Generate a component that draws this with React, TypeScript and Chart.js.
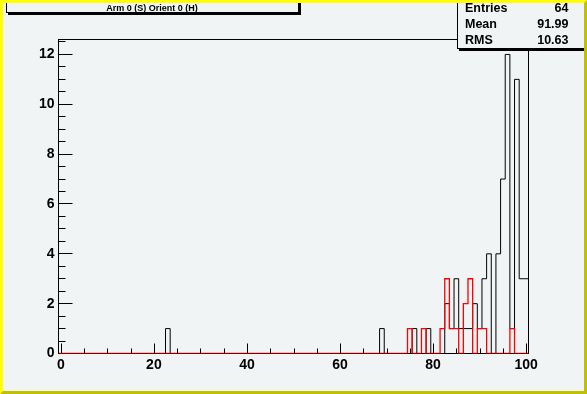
import React, { useEffect, useRef } from "react";
import { Chart, registerables } from "chart.js";

Chart.register(...registerables);

// ---- data ----
const xMin = -0.5;
const xMax = 100.5;
const nBins = 101;
const yMax = 12.6;
const xTickLabels = [0, 20, 40, 60, 80, 100];
const yTickLabels = [0, 2, 4, 6, 8, 10, 12];

const blackBins = [23, 69, 76, 79, 83, 84, 85, 86, 87, 88, 89, 90, 91, 92, 94, 95, 96, 97, 98, 99, 100];
const blackCounts = [1, 1, 1, 1, 2, 1, 3, 1, 1, 1, 2, 1, 3, 4, 4, 7, 12, 1, 11, 3, 3];
const redBins = [75, 78, 82, 83, 84, 85, 87, 88, 90, 91, 97];
const redCounts = [1, 1, 1, 3, 1, 1, 2, 3, 1, 1, 1];

const titleText = "Arm 0 (S) Orient 0 (H)";
const statsLabels = ["Entries", "Mean", "RMS"];
const statsValues = ["64", "91.99", "10.63"];

const FONT = "'Liberation Sans', Arial, Helvetica, sans-serif";
const BG = "#f0f4f4";

function stepPoints(bins: number[], counts: number[]) {
  const full = new Array(nBins).fill(0);
  bins.forEach((b, i) => {
    full[b] = counts[i];
  });
  const pts: { x: number; y: number }[] = [];
  for (let i = 0; i < nBins; i++) pts.push({ x: xMin + i, y: full[i] });
  pts.push({ x: xMax, y: full[nBins - 1] });
  pts.push({ x: xMax, y: 0 });
  return pts;
}

export default function App() {
  const ref = useRef<HTMLCanvasElement>(null);

  useEffect(() => {
    document.body.style.margin = "0";
    const canvas = ref.current!;

    const rootPlugin = {
      id: "rootStyle",
      beforeDraw(chart: any) {
        const ctx = chart.ctx;
        ctx.save();
        ctx.fillStyle = BG;
        ctx.fillRect(0, 0, chart.width, chart.height);
        ctx.restore();
      },
      beforeDatasetsDraw(chart: any) {
        const ctx = chart.ctx;
        const xs = chart.scales.x;
        const ys = chart.scales.y;
        const L = xs.getPixelForValue(xMin);
        const R = xs.getPixelForValue(xMax);
        const T = ys.getPixelForValue(yMax);
        const B = ys.getPixelForValue(0);
        ctx.save();
        ctx.strokeStyle = "#000";
        ctx.lineWidth = 1;
        ctx.strokeRect(L, T, R - L, B - T);
        ctx.beginPath();
        for (let v = 0; v <= 100; v += 5) {
          const px = Math.round(xs.getPixelForValue(v)) + 0.5;
          const len = xTickLabels.includes(v) ? 10 : 5;
          ctx.moveTo(px, B);
          ctx.lineTo(px, B - len);
        }
        for (let v = 0; v <= yMax; v += 0.5) {
          const py = Math.round(ys.getPixelForValue(v) - 0.5) + 0.5;
          const len = yTickLabels.includes(v) ? 14 : 7;
          ctx.moveTo(L, py);
          ctx.lineTo(L + len, py);
        }
        ctx.stroke();
        ctx.restore();
      },
      afterDraw(chart: any) {
        const ctx = chart.ctx;
        const W = chart.width;
        const H = chart.height;
        ctx.save();
        // title box
        const tx0 = 6, tx1 = 298, ty0 = -6, ty1 = 12;
        ctx.fillStyle = "#000";
        ctx.fillRect(tx0 + 2, ty0 + 2, tx1 - tx0 + 1, ty1 - ty0 + 1);
        ctx.fillStyle = BG;
        ctx.fillRect(tx0, ty0, tx1 - tx0, ty1 - ty0);
        ctx.strokeStyle = "#000";
        ctx.lineWidth = 1;
        ctx.strokeRect(tx0 + 0.5, ty0 + 0.5, tx1 - tx0, ty1 - ty0);
        ctx.fillStyle = "#000";
        ctx.font = `bold 9px ${FONT}`;
        ctx.textAlign = "center";
        ctx.textBaseline = "alphabetic";
        ctx.fillText(titleText, (tx0 + tx1) / 2, 10.5);

        // stats box
        const sx0 = 457, sx1 = W, sy0 = -6, sy1 = 48;
        ctx.fillStyle = "#000";
        ctx.fillRect(sx0 + 2, sy0 + 2, sx1 - sx0, sy1 - sy0 + 1);
        ctx.fillStyle = BG;
        ctx.fillRect(sx0, sy0, sx1 - sx0, sy1 - sy0);
        ctx.strokeRect(sx0 + 0.5, sy0 + 0.5, sx1 - sx0, sy1 - sy0);
        ctx.fillStyle = "#000";
        ctx.font = `bold 12.5px ${FONT}`;
        statsLabels.forEach((lab, i) => {
          const y = 12 + i * 16;
          ctx.textAlign = "left";
          ctx.fillText(lab, 465, y);
          ctx.textAlign = "right";
          ctx.fillText(statsValues[i], 568.5, y);
        });

        // canvas bevel border
        const b = 3;
        ctx.fillStyle = "#ffff00";
        ctx.beginPath();
        ctx.moveTo(0, 0);
        ctx.lineTo(W, 0);
        ctx.lineTo(W - b, b);
        ctx.lineTo(b, b);
        ctx.lineTo(b, H - b);
        ctx.lineTo(0, H);
        ctx.closePath();
        ctx.fill();
        ctx.fillStyle = "#c0c000";
        ctx.beginPath();
        ctx.moveTo(W, 0);
        ctx.lineTo(W, H);
        ctx.lineTo(0, H);
        ctx.lineTo(b, H - b);
        ctx.lineTo(W - b, H - b);
        ctx.lineTo(W - b, b);
        ctx.closePath();
        ctx.fill();
        ctx.restore();
      },
    };

    const tickFont = { family: FONT, size: 14, weight: "bold" as const };

    const chart = new Chart(canvas, {
      type: "line",
      data: {
        datasets: [
          {
            label: "red",
            data: stepPoints(redBins, redCounts),
            borderColor: "#ff0000",
            borderWidth: 1.3,
            stepped: true,
            pointRadius: 0,
            fill: false,
            order: 1,
          },
          {
            label: "black",
            data: stepPoints(blackBins, blackCounts),
            borderColor: "#000000",
            borderWidth: 1,
            stepped: true,
            pointRadius: 0,
            fill: false,
            order: 2,
          },
        ],
      },
      options: {
        animation: false,
        responsive: false,
        events: [],
        layout: { padding: { top: 39.5, right: 58.5, left: 0, bottom: 0 } },
        plugins: { legend: { display: false }, tooltip: { enabled: false }, title: { display: false } },
        scales: {
          x: {
            type: "linear",
            min: xMin,
            max: xMax,
            grid: { display: false, drawTicks: false },
            border: { display: false },
            ticks: {
              font: tickFont,
              color: "#000",
              padding: 3,
              maxRotation: 0,
              autoSkip: false,
              callback: (v: any) => String(v),
            },
            afterBuildTicks: (s: any) => {
              s.ticks = xTickLabels.map((v) => ({ value: v }));
            },
            afterFit: (s: any) => {
              s.height = 40.5;
            },
          },
          y: {
            type: "linear",
            min: 0,
            max: yMax,
            grid: { display: false, drawTicks: false },
            border: { display: false },
            ticks: {
              font: tickFont,
              color: "#000",
              padding: 4,
              autoSkip: false,
              callback: (v: any) => String(v),
            },
            afterBuildTicks: (s: any) => {
              s.ticks = yTickLabels.map((v) => ({ value: v }));
            },
            afterFit: (s: any) => {
              s.width = 58.5;
            },
          },
        },
      },
      plugins: [rootPlugin],
    });

    return () => chart.destroy();
  }, []);

  return (
    <div style={{ position: "absolute", left: 0, top: 0 }}>
      <canvas ref={ref} width={587} height={394} style={{ display: "block" }} />
    </div>
  );
}
